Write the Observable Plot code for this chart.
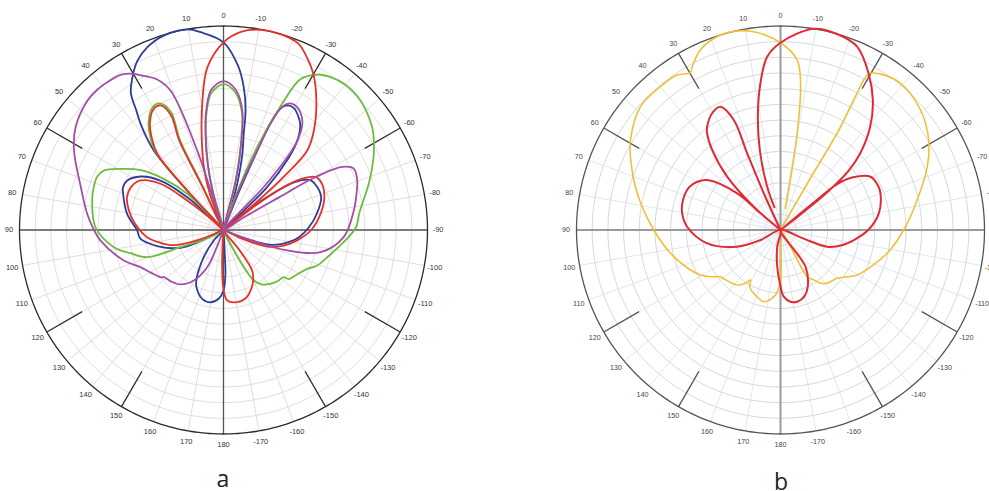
<!DOCTYPE html>
<html>
<head>
<meta charset="utf-8">
<script src="https://cdn.jsdelivr.net/npm/d3@7"></script>
<script src="https://cdn.jsdelivr.net/npm/@observablehq/plot@0.6"></script>
<style>
  body { margin: 0; background: #fff; }
  #wrap { position: relative; width: 989px; height: 491px; overflow: hidden; background: #fff; }
  .panel { position: absolute; top: 0; width: 446px; height: 460px; }
  .cap { position: absolute; font-family: "Open Sans", "Liberation Sans", sans-serif; font-size: 23px; line-height: 23px; color: #222; width: 60px; text-align: center; }
</style>
</head>
<body>
<div id="wrap">
  <div class="panel" id="pa" style="left:0px"></div>
  <div class="panel" id="pb" style="left:557px"></div>
  <div class="cap" style="left:193px; top:467px">a</div>
  <div class="cap" style="left:751px; top:470px">b</div>
</div>
<script>
// ---------- DATA: pattern traces as [angle (deg, + = counter-clockwise from top), normalized radius] ----------
const blueA = [
  [-118,0],[-112,0.1],[-107,0.25],[-100,0.33],[-95,0.375],[-88,0.42],[-80,0.465],[-71.4,0.505],[-65,0.505],[-60,0.49],
  [-56,0.42],[-53,0.27],[-50,0.1],[-48,0],
  [-45.5,0.3],[-42,0.48],[-39.5,0.57],[-36,0.64],[-33,0.67],[-30,0.69],[-27.1,0.686],[-25,0.655],[-23.5,0.55],[-23,0.4],[-22,0.2],[-21,0],
  [-18,0.13],[-16.5,0.236],[-14,0.38],[-11.9,0.48],[-10.4,0.6],[-8,0.71],[-5,0.81],[0,0.92],[6.6,0.976],[10.2,0.999],
  [17.1,0.997],[22.7,0.97],[27,0.93],[30.9,0.87],[34.1,0.81],[36.1,0.725],[38,0.66],[41.2,0.52],[42.6,0.263],[44.5,0],
  [46,0.1],[47.9,0.24],[51.8,0.39],[57.2,0.484],[62.8,0.53],[67,0.535],[70.2,0.523],[80.5,0.479],[90.3,0.423],[96,0.41],
  [104,0.33],[112.5,0.228],[116,0.12],[119,0],
  [137,0.07],[144,0.165],[151.6,0.28],[154.7,0.31],[162.8,0.353],[169.8,0.36],[176,0.338],[180,0.297],[182.5,0.215],[183,0.12],[184,0]
];
const redA = [
  [-184,0],[-182.5,0.15],[-180.3,0.28],[-177,0.346],[-169.3,0.36],[-162,0.352],[-155.9,0.325],[-150,0.29],[-144.7,0.243],[-141.5,0.11],[-138,0],
  [-115,0.1],[-110.7,0.23],[-105,0.3],[-98,0.365],[-90,0.43],[-80,0.485],[-71.9,0.52],[-65,0.533],[-60,0.52],[-56.5,0.45],[-54,0.33],[-52.5,0.18],[-51,0],
  [-50,0.2],[-48.5,0.4],[-46.5,0.566],[-42.2,0.66],[-35.7,0.78],[-30.1,0.88],[-25,0.95],[-21.8,0.985],[-16,1.0],[-10.5,0.998],[-5,0.975],
  [0,0.92],[5.7,0.8],[9.3,0.64],[12.9,0.48],[17.4,0.32],[21,0.18],[24,0],
  [26,0.25],[26.3,0.49],[24.6,0.62],[26.8,0.684],[30,0.685],[34.7,0.634],[38,0.57],[41,0.495],[42.6,0.263],[44,0],
  [48.5,0.1],[50.9,0.23],[53.7,0.383],[59.2,0.474],[65.3,0.5],[71.2,0.5],[78,0.475],[85,0.44],[95.4,0.376],[101,0.32],[107,0.255],[111.5,0.14],[115,0]
];
const greenA = [
  [-155,0],[-153.3,0.112],[-149,0.289],[-145,0.325],[-141.3,0.342],[-136,0.358],[-132.4,0.367],[-129.5,0.37],[-128,0.376],[-127,0.4],
  [-122.9,0.415],[-114.9,0.452],[-111,0.49],[-104.7,0.526],[-96.6,0.585],[-88.8,0.65],[-83.1,0.67],[-72,0.75],[-65,0.81],[-60.2,0.85],
  [-55.3,0.886],[-46.6,0.924],[-40,0.93],[-35,0.915],[-31.1,0.89],[-27,0.83],[-24.9,0.682],[-22.1,0.438],[-19.3,0.153],[-18,0],
  [-14,0.23],[-12,0.39],[-9,0.58],[-5,0.675],[0,0.715],[5,0.675],[8,0.59],[10.6,0.47],[13.5,0.32],[15.5,0.19],[17,0],
  [25.5,0.25],[25.8,0.49],[24,0.635],[26.8,0.695],[30,0.695],[34.7,0.645],[38,0.585],[41,0.505],[42.8,0.27],[43.8,0],
  [45,0.25],[49.4,0.385],[54,0.5],[59.3,0.587],[63.6,0.655],[67,0.672],[71.7,0.67],[77.3,0.66],[88.7,0.628],[98.9,0.544],
  [104,0.47],[109.6,0.397],[111.8,0.227],[115,0.12],[119.6,0.055],[121,0]
];
const purpleA = [
  [-112,0],[-110.4,0.124],[-107.8,0.328],[-102.9,0.488],[-93.4,0.59],[-81.5,0.646],[-72.2,0.688],[-69.7,0.699],[-64.8,0.706],[-62,0.66],
  [-60,0.51],[-59.5,0.32],[-58,0.12],[-56,0],
  [-43,0.3],[-40,0.55],[-36.5,0.65],[-33,0.69],[-30,0.705],[-27.5,0.7],[-25.5,0.67],[-24,0.58],[-23,0.42],[-21,0.22],[-18.5,0],
  [-14,0.24],[-12,0.4],[-9,0.59],[-5,0.69],[0,0.73],[5,0.69],[8,0.6],[10.6,0.48],[13.5,0.33],[15.7,0.2],[17,0],
  [18,0.2],[18.3,0.41],[20.8,0.73],[24,0.81],[27.3,0.85],[29.9,0.883],[33.1,0.91],[37.1,0.92],[42,0.925],[46.5,0.92],[55.2,0.883],
  [62,0.83],[73.3,0.73],[83.2,0.673],[90,0.635],[94.9,0.605],[107,0.511],[114.1,0.446],[121,0.41],[127,0.385],[128.5,0.372],[130,0.368],
  [134.6,0.36],[141.7,0.34],[149.5,0.287],[156.3,0.199],[158.5,0.1],[160,0]
];
const redB = [
  [14.8,0.115],[17.1,0.222],[14.5,0.405],[11.3,0.567],[7.8,0.726],[4.4,0.852],[0,0.918],[-9.4,1.0],[-16.1,1.0],[-22.7,0.974],
  [-29.4,0.88],[-35.5,0.78],[-41,0.67],[-46.2,0.54],[-49,0.44],[-51,0.3],[-52,0.15],[-52.5,0],
  [-50.5,0.2],[-51,0.36],[-54,0.44],[-59.4,0.513],[-65,0.525],[-69.8,0.522],[-80.4,0.489],[-90,0.43],[-97.8,0.363],[-104,0.31],
  [-109.7,0.243],[-110.5,0.121],[-112,0],
  [-145.7,0.218],[-154.3,0.308],[-160,0.345],[-166.9,0.361],[-172,0.355],[-177.2,0.327],[-180.7,0.26],[-185.1,0.18],[-191.2,0.083],[-192,0],
  [116.6,0.11],[111,0.228],[100.3,0.365],[88,0.458],[80,0.49],[72.9,0.5],[65,0.495],[59.9,0.472],[55.7,0.435],[49.7,0.278],[50.2,0.128],[50,0],
  [48.9,0.174],[45,0.37],[40.5,0.516],[37.2,0.595],[35.4,0.621],[30,0.665],[26,0.672],[23,0.586],[23.5,0.41],[24.5,0.198],[24,0]
];
const yellowB = [
  [-13,0.109],[-9.8,0.481],[-7.8,0.726],[-5.6,0.837],[0,0.918],[7.7,0.981],[13.1,1.0],[18.1,0.998],[24,0.966],[28.4,0.91],[29.8,0.888],
  [31.8,0.9],[33.7,0.913],[39.9,0.917],[48.6,0.915],[59,0.858],[65,0.81],[75.6,0.725],[90,0.621],[104,0.539],[119.4,0.45],[125,0.4],
  [127.9,0.373],[130,0.368],[141.8,0.343],[147,0.31],[149,0.286],[152,0.32],[157.1,0.337],[166.9,0.361],[175.6,0.32],[180,0.245],[180.5,0.1],[181,0],
  [-149,0.095],[-150.3,0.264],[-146.3,0.294],[-143,0.327],[-138.8,0.347],[-130.4,0.365],[-125,0.4],[-120.4,0.436],[-102.3,0.535],[-90,0.604],
  [-77.6,0.686],[-66.7,0.783],[-58.7,0.85],[-49.4,0.904],[-39.3,0.929],[-32.7,0.908],[-29.5,0.879],[-29.4,0.73],[-30.4,0.55],[-30,0.3],[-27,0]
];

// ---------- AXIS / GRID DEFINITIONS ----------
const ringCount = 13;                       // concentric grid circles
const spokeAngles = d3.range(0, 360, 10);   // radial grid lines
const axisAngles = [0, 90, 180, -90];
const tickAngles = [30, 60, 120, 150, -30, -60, -120, -150];
const labelAngles = [0,10,20,30,40,50,60,70,80,90,100,110,120,130,140,150,160,170,180,
                     -170,-160,-150,-140,-130,-120,-110,-100,-90,-80,-70,-60,-50,-40,-30,-20,-10];
const labelText = labelAngles.map(String);

// ---------- HELPERS ----------
const rad = d => d * Math.PI / 180;
const px = (a, r) => -r * Math.sin(rad(a));
const py = (a, r) => r * Math.cos(rad(a));
const toXY = pairs => pairs.map(([a, r]) => ({x: px(a, r), y: py(a, r)}));

const W = 446, H = 460, CX = 223, CY = 229.5, RP = 204;

function polarChart(series, st) {
  const rings = d3.range(1, ringCount).flatMap(k =>
    d3.range(0, 361, 2).map(a => ({k, x: px(a, k / ringCount), y: py(a, k / ringCount)})));
  const outer = d3.range(0, 361, 1).map(a => ({x: px(a, 1), y: py(a, 1)}));
  const spokes = spokeAngles.map(a => ({x: px(a, 1), y: py(a, 1)}));
  const axes = axisAngles.map(a => ({x: px(a, 1), y: py(a, 1)}));
  const ticks = tickAngles.map(a => ({x1: px(a, 0.8), y1: py(a, 0.8), x2: px(a, 1), y2: py(a, 1)}));
  const labels = labelAngles.map((a, i) => ({x: px(a, 1.052), y: py(a, 1.052), t: labelText[i]}));
  return Plot.plot({
    width: W, height: H, margin: 0,
    style: {fontFamily: "'Liberation Sans', Arial, sans-serif", background: "transparent", overflow: "visible"},
    x: {domain: [-CX / RP, (W - CX) / RP], axis: null},
    y: {domain: [-(H - CY) / RP, CY / RP], axis: null},
    marks: [
      Plot.line(rings, {x: "x", y: "y", z: "k", stroke: st.ring, strokeWidth: 0.8}),
      Plot.link(spokes, {x1: 0, y1: 0, x2: "x", y2: "y", stroke: st.spoke, strokeWidth: 0.8}),
      Plot.link(axes, {x1: 0, y1: 0, x2: "x", y2: "y", stroke: st.axis, strokeWidth: st.axisW}),
      Plot.link(ticks, {x1: "x1", y1: "y1", x2: "x2", y2: "y2", stroke: st.tick, strokeWidth: 1.3}),
      Plot.line(outer, {x: "x", y: "y", stroke: st.outer, strokeWidth: 1.3}),
      Plot.text(labels, {x: "x", y: "y", text: "t", fontSize: st.fs, fill: st.label}),
      ...series.map(s => Plot.line(toXY(s.data), {x: "x", y: "y", stroke: s.color, strokeWidth: s.w, curve: "catmull-rom"}))
    ]
  });
}

document.getElementById("pa").append(polarChart([
  {data: blueA, color: "#2e3d98", w: 1.8},
  {data: greenA, color: "#6cbd3e", w: 1.8},
  {data: redA, color: "#e53228", w: 1.8},
  {data: purpleA, color: "#a14ea6", w: 1.8}
], {ring: "#ddd4d4", spoke: "#dcd3d3", axis: "#555", axisW: 1.3, tick: "#333", outer: "#2a2a2a", label: "#333", fs: 7.5}));

document.getElementById("pb").append(polarChart([
  {data: yellowB, color: "#efc13a", w: 1.6},
  {data: redB, color: "#e02a36", w: 2}
], {ring: "#cdcdcd", spoke: "#d2e2e8", axis: "#9a9a9a", axisW: 2, tick: "#555", outer: "#555", label: "#444", fs: 7.2}));
</script>
</body>
</html>
